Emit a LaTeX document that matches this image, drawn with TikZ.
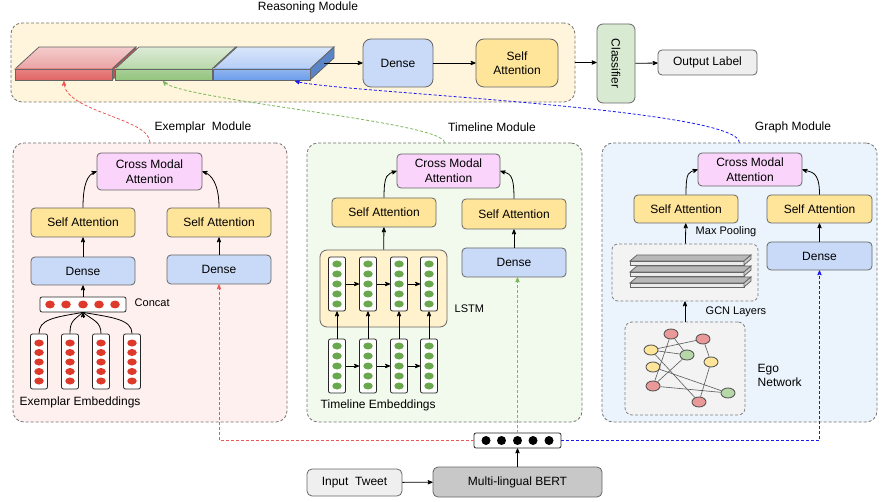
\documentclass[tikz,border=0pt]{standalone}
\usepackage{fontspec}
\setmainfont{Liberation Sans}
\usepackage{graphicx}
\usepackage{tikz}
\usetikzlibrary{arrows,shapes,calc}

\definecolor{boxline}{HTML}{666666}
\definecolor{densefill}{HTML}{C9DAF8}
\definecolor{attfill}{HTML}{FFE599}
\definecolor{cmafill}{HTML}{FAD4FA}
\definecolor{clsfill}{HTML}{D9EAD3}
\definecolor{outfill}{HTML}{EFEFEF}
\definecolor{bertfill}{HTML}{C8C8C8}
\definecolor{rsnfill}{HTML}{FFF5DC}
\definecolor{exmfill}{HTML}{FFF0F0}
\definecolor{tlmfill}{HTML}{F1FAEC}
\definecolor{grmfill}{HTML}{EBF4FC}
\definecolor{lstmfill}{HTML}{FFF2CC}
\definecolor{grayfill}{HTML}{F3F3F3}
\definecolor{reddot}{HTML}{DD3A2C}
\definecolor{greendot}{HTML}{6AA84F}
\definecolor{rednode}{HTML}{EA9999}
\definecolor{yellownode}{HTML}{FFE599}
\definecolor{greennode}{HTML}{B6D7A8}
\definecolor{feedred}{HTML}{EE5555}
\definecolor{feedgreen}{HTML}{7DB65B}
\definecolor{feedblue}{HTML}{1A1AF0}
\definecolor{redtopa}{HTML}{F4CCCC}
\definecolor{redtopb}{HTML}{EBA3A3}
\definecolor{redfronta}{HTML}{E88282}
\definecolor{redfrontb}{HTML}{E06666}
\definecolor{redside}{HTML}{B85454}
\definecolor{greentopa}{HTML}{DCEBD6}
\definecolor{greentopb}{HTML}{B9D8AB}
\definecolor{greenfronta}{HTML}{A8CF97}
\definecolor{greenfrontb}{HTML}{93C47D}
\definecolor{greenside}{HTML}{76A361}
\definecolor{bluetopa}{HTML}{D9E6FB}
\definecolor{bluetopb}{HTML}{B5CDF5}
\definecolor{bluefronta}{HTML}{8FB4F0}
\definecolor{bluefrontb}{HTML}{6D9EEB}
\definecolor{blueside}{HTML}{5A84C8}

\tikzstyle{module}=[rectangle,draw=black!55,dash pattern=on 3pt off 2pt,rounded corners=11pt]
\tikzstyle{block}=[rectangle,draw=boxline,rounded corners=4pt,align=center,inner sep=2pt]
\tikzstyle{denseblock}=[block,fill=densefill,minimum width=104,minimum height=29]
\tikzstyle{selfatt}=[block,fill=attfill,minimum width=104,minimum height=29]
\tikzstyle{cmatt}=[block,fill=cmafill,minimum width=105,minimum height=37,
                   font=\fontsize{12}{15}\selectfont]
\tikzstyle{vecbox}=[rectangle,draw=black!85,fill=white,rounded corners=2pt,inner sep=0pt,
                    minimum width=17,minimum height=55]
\tikzstyle{rdot}=[ellipse,fill=reddot,inner sep=0pt,minimum width=9.5,minimum height=7]
\tikzstyle{gdot}=[ellipse,fill=greendot,inner sep=0pt,minimum width=9.5,minimum height=7]
\tikzstyle{bdot}=[circle,fill=black,inner sep=0pt,minimum size=9]
\tikzstyle{gnode}=[ellipse,draw=black!70,inner sep=0pt,minimum width=14,minimum height=10]
\tikzstyle{lbl}=[anchor=west,font=\fontsize{11}{13}\selectfont]
\tikzstyle{link}=[->,black]
\tikzstyle{feed}=[->,dash pattern=on 3pt off 2pt]

\begin{document}
\begin{tikzpicture}[x=1pt,y=-1pt,>=stealth',line width=0.8pt,
                    font=\fontsize{12}{14}\selectfont]
\useasboundingbox (0,0) rectangle (888,502);

	% reasoning module
	\node[module,fill=rsnfill,minimum width=564,minimum height=79] (rsn) at (293,62.5) {};
	\node (rsntitle) at (308,7) {Reasoning Module};

	\shadedraw[draw=boxline,top color=redtopa,bottom color=redtopb] (15,69) -- (39,47) -- (136,47) -- (112,69) -- cycle;
	\filldraw[fill=redside,draw=boxline] (112,69) -- (136,47) -- (136,58) -- (112,80) -- cycle;
	\shadedraw[draw=boxline,top color=redfronta,bottom color=redfrontb] (15,69) rectangle (112,80);
	\shadedraw[draw=boxline,top color=greentopa,bottom color=greentopb] (115,69) -- (139,47) -- (236,47) -- (212,69) -- cycle;
	\filldraw[fill=greenside,draw=boxline] (212,69) -- (236,47) -- (236,58) -- (212,80) -- cycle;
	\shadedraw[draw=boxline,top color=greenfronta,bottom color=greenfrontb] (115,69) rectangle (212,80);
	\shadedraw[draw=boxline,top color=bluetopa,bottom color=bluetopb] (213,69) -- (237,47) -- (334,47) -- (310,69) -- cycle;
	\filldraw[fill=blueside,draw=boxline] (310,69) -- (334,47) -- (334,58) -- (310,80) -- cycle;
	\shadedraw[draw=boxline,top color=bluefronta,bottom color=bluefrontb] (213,69) rectangle (310,80);
	\coordinate (redslab) at (64,81);
	\coordinate (greenslab) at (163,81);
	\coordinate (blueslab) at (295,81);
	\coordinate (slabout) at (324,63);

	\node[denseblock,minimum width=70,minimum height=48,rounded corners=8pt] (dn0) at (398,63) {Dense};
	\node[selfatt,minimum width=82,minimum height=48,rounded corners=8pt] (sa0) at (517,63) {Self\\Attention};
	\node[block,fill=clsfill,minimum width=38,minimum height=79,rounded corners=6pt] (cls) at (616,63.5) {\rotatebox{-90}{Classifier}};
	\node[block,fill=outfill,minimum width=99,minimum height=25] (out) at (707.5,62.5) {Output Label};

  \path [link] (slabout) edge (dn0)
        (dn0) edge (sa0)
        (rsn.east) edge (rsn.east -| cls.west)
        (cls) edge (out);

	% modules
	\node[module,fill=exmfill,minimum width=274,minimum height=279] (exm) at (150,282.5) {};
	\node[module,fill=tlmfill,minimum width=275,minimum height=279] (tlm) at (444.5,282.5) {};
	\node[module,fill=grmfill,minimum width=275,minimum height=279] (grm) at (739.5,282.5) {};
	\node (exmtitle) at (203,127) {Exemplar\ \ Module};
	\node (tlmtitle) at (492,127) {Timeline Module};
	\node (grmtitle) at (793,127) {Graph Module};

	% exemplar module
	\node[cmatt] (cma1) at (149.5,171.5) {Cross Modal\\Attention};
	\node[selfatt] (sa1a) at (83,222.5) {Self Attention};
	\node[selfatt] (sa1b) at (219,222.5) {Self Attention};
	\node[denseblock,minimum height=28] (dn1a) at (83,271) {Dense};
	\node[denseblock] (dn1b) at (219,269.5) {Dense};
	\node[vecbox,minimum width=86,minimum height=15] (cat) at (83,304.5) {};
	\foreach \x in {50,66,83,99,115} \node[rdot,minimum height=8] at (\x,304.5) {};
	\node[lbl] (catlbl) at (131,303) {Concat};
	\foreach \i/\x in {1/39,2/70,3/101,4/132} {
		\node[vecbox] (ec\i) at (\x,361.5) {};
		\foreach \j in {0,...,4} \node[rdot] at (\x,343+\j*9.5) {};
	}
	\node[anchor=west] (eclbl) at (16,402) {Exemplar Embeddings};
	\draw (ec1.north) .. controls +(0,-14) and +(-30,5) .. (cat.south);
	\draw (ec2.north) .. controls +(0,-12) and +(-10,8) .. (cat.south);
	\draw (ec3.north) .. controls +(0,-12) and +(10,8) .. (cat.south);
	\draw (ec4.north) .. controls +(0,-14) and +(30,5) .. (cat.south);
	\draw[->] (83,318) -- (cat.south);

  \path [link] (cat) edge (dn1a)
        (dn1a) edge (sa1a)
        (dn1b) edge (sa1b);
	\draw[link] (sa1a.north) .. controls +(0,-24) and +(-9,3) .. (cma1.west);
	\draw[link] (sa1b.north) .. controls +(0,-24) and +(9,3) .. (cma1.east);

	% timeline module
	\node[cmatt,minimum width=103,minimum height=34] (cma2) at (448.5,171) {Cross Modal\\Attention};
	\node[selfatt] (sa2a) at (384,212.5) {Self Attention};
	\node[selfatt,minimum height=30] (sa2b) at (514,214) {Self Attention};
	\node[denseblock] (dn2) at (514,262.5) {Dense};
	\node[block,fill=lstmfill,minimum width=127,minimum height=77,rounded corners=7pt] (lstm) at (383.5,288.5) {};
	\node[lbl] (lstmlbl) at (451,309) {LSTM};
	\foreach \i/\x in {1/337,2/368,3/399,4/429} {
		\node[vecbox,minimum height=54] (lc\i) at (\x,284) {};
		\node[vecbox,minimum height=54] (tc\i) at (\x,366) {};
		\foreach \j in {0,...,4} {
			\node[gdot] at (\x,264+\j*10) {};
			\node[gdot] at (\x,346+\j*10) {};
		}
	}
	\node[anchor=west] (tclbl) at (317,405) {Timeline Embeddings};
	\foreach \i/\k in {1/2,2/3,3/4}
		\path [link] (lc\i) edge (lc\k) (tc\i) edge (tc\k);
	\foreach \i in {1,...,4}
		\path [link] (tc\i) edge (lc\i);
  \path [link] (lstm) edge (sa2a)
        (dn2) edge (sa2b);
	\draw[link] (sa2a.north) .. controls +(0,-24) and +(-9,3) .. (cma2.west);
	\draw[link] (sa2b.north) .. controls +(0,-26) and +(9,3) .. (cma2.east);

	% graph module
	\node[cmatt,minimum width=104,minimum height=33] (cma3) at (750,169.5) {Cross Modal\\Attention};
	\node[selfatt,minimum height=28] (sa3a) at (686,209) {Self Attention};
	\node[selfatt,minimum width=105,minimum height=28] (sa3b) at (819.5,209) {Self Attention};
	\node[denseblock,minimum width=105,minimum height=28] (dn3) at (819.5,256) {Dense};
	\node[module,draw=black!50,rounded corners=6pt,fill=grayfill,minimum width=146,minimum height=57] (gcn) at (685,272.5) {};
	\foreach \y in {277,266,255} {
		\filldraw[fill=black!28,draw=boxline] (637,\y) -- (751,\y) -- (744,\y+6) -- (630,\y+6) -- cycle;
		\filldraw[fill=black!8,draw=boxline] (630,\y+6) rectangle (744,\y+10);
		\filldraw[fill=black!20,draw=boxline] (744,\y+6) -- (751,\y) -- (751,\y+4) -- (744,\y+10) -- cycle;
	}
	\node[lbl] (poollbl) at (692,232) {Max Pooling};
	\node[lbl] (gcnlbl) at (702,312) {GCN Layers};
	\node[module,draw=black!50,rounded corners=7pt,fill=grayfill,minimum width=120,minimum height=93] (ego) at (685,368.5) {};
	\node[anchor=west,align=left] (egolbl) at (754,375) {Ego\\Network};

	\node[gnode,fill=rednode] (r1) at (671,334) {};
	\node[gnode,fill=rednode] (r2) at (703,339) {};
	\node[gnode,fill=yellownode] (y1) at (651,350) {};
	\node[gnode,fill=greennode] (g1) at (687,355) {};
	\node[gnode,fill=yellownode] (y2) at (711,362) {};
	\node[gnode,fill=yellownode] (y3) at (653,367) {};
	\node[gnode,fill=rednode] (r3) at (653,386) {};
	\node[gnode,fill=greennode] (g2) at (728,393) {};
	\node[gnode,fill=rednode] (r4) at (699,402) {};
  \path [draw=black!65,line width=0.6pt]
        (y1) edge (r2) (y1) edge (g1) (r1) edge (g1) (r1) edge (r3)
        (y1) edge (r4) (g1) edge (r3) (y3) edge (g2) (r3) edge (g2)
        (r2) edge (y2) (y2) edge (r4);

  \path [link] (ego) edge (gcn)
        (gcn) edge (sa3a)
        (dn3) edge (sa3b);
	\draw[link] (sa3a.north) .. controls +(0,-24) and +(-9,3) .. (cma3.west);
	\draw[link] (sa3b.north) .. controls +(0,-24) and +(9,3) .. (cma3.east);

	% input
	\node[vecbox,minimum width=87,minimum height=15] (bvec) at (517.5,440.5) {};
	\foreach \x in {486,501.5,517.5,533,549} \node[bdot] at (\x,440.5) {};
	\node[block,fill=bertfill,minimum width=169,minimum height=30,rounded corners=5pt] (bert) at (517.5,482) {Multi-lingual BERT};
	\node[block,fill=outfill,minimum width=95,minimum height=27,rounded corners=5pt] (tweet) at (354.5,482.5) {Input\ \ Tweet};
  \path [link] (tweet) edge (bert)
        (bert) edge (bvec);

	% feeds
	\draw[feed,feedred] (bvec.west) -| (dn1b.south);
	\draw[feed,feedgreen] (bvec.north) -- (bvec.north |- dn2.south);
	\draw[feed,feedblue] (bvec.east) -| (dn3.south);
	\draw[feed,feedred] (exm.north) .. controls (150,118) and (64,112) .. (redslab);
	\draw[feed,feedgreen] (tlm.north) .. controls (445,122) and (180,100) .. (greenslab);
	\draw[feed,feedblue] (grm.north) .. controls (738,108) and (330,92) .. (blueslab);

\end{tikzpicture}
\end{document}
